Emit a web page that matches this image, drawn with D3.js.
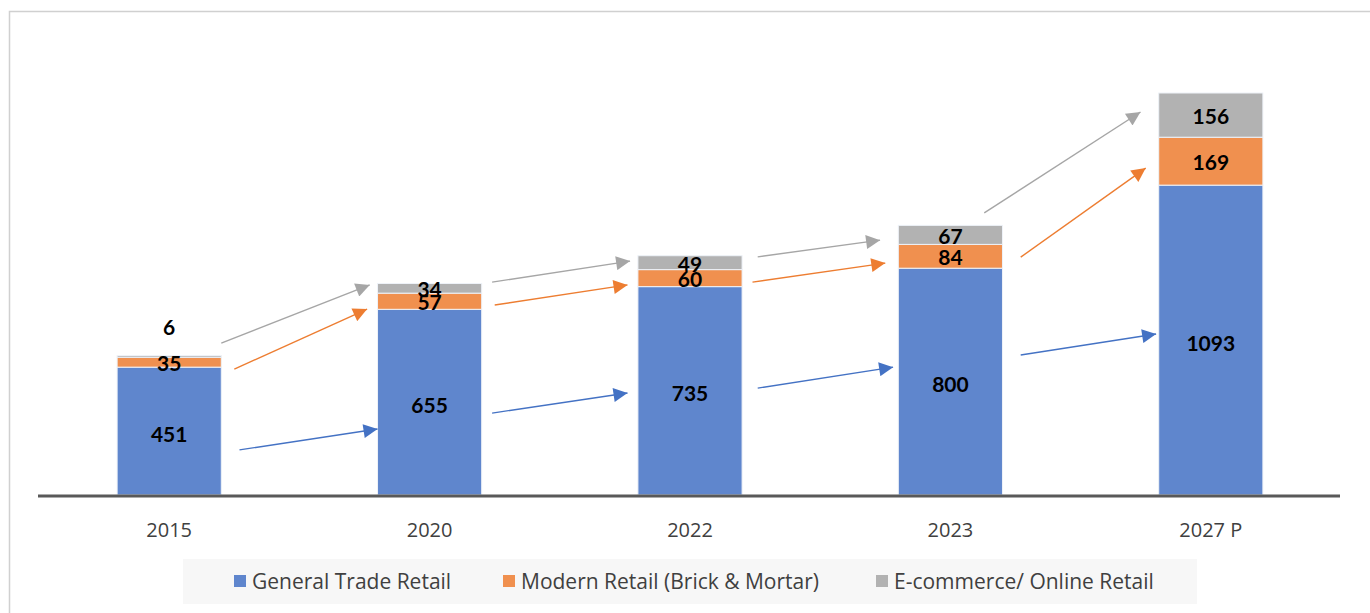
<!DOCTYPE html>
<html>
<head>
<meta charset="utf-8">
<script src="https://cdn.jsdelivr.net/npm/d3@7"></script>
<style>
  html, body { margin: 0; padding: 0; background: #fff; }
  svg { display: block; }
</style>
</head>
<body>
<div id="chart"></div>
<script>
// 数据
const years = ['2015', '2020', '2022', '2023', '2027 P'];
const generalTrade = [451, 655, 735, 800, 1093];
const modernRetail = [35, 57, 60, 84, 169];
const ecommerce = [6, 34, 49, 67, 156];
const seriesNames = ['General Trade Retail', 'Modern Retail (Brick & Mortar)', 'E-commerce/ Online Retail'];
const barColors = ['#5f86cd', '#f0904f', '#b2b2b2'];
const arrowColors = ['#4472c4', '#ed7d31', '#a6a6a6'];

// 趋势箭头: 起点/终点 = [类别位置, 数值]
const blueArrows = [
  [[0.27, 159], [0.80, 233]],
  [[1.24, 289], [1.76, 360]],
  [[2.26, 377], [2.78, 451]],
  [[3.27, 494], [3.79, 568]]
];
const orangeArrows = [
  [[0.25, 444], [0.76, 656]],
  [[1.25, 670], [1.76, 741]],
  [[2.24, 751], [2.75, 818]],
  [[3.27, 839], [3.75, 1153]]
];
const grayArrows = [
  [[0.20, 536], [0.77, 741]],
  [[1.24, 751], [1.77, 825]],
  [[2.26, 840], [2.73, 899]],
  [[3.13, 995], [3.73, 1351]]
];

const width = 1370, height = 613;
const svg = d3.select('#chart').append('svg')
  .attr('width', width)
  .attr('height', height);

// 外框
svg.append('rect')
  .attr('x', 9.5).attr('y', 11.5)
  .attr('width', width + 20).attr('height', height + 20)
  .style('fill', 'none')
  .style('stroke', '#d0d0d0')
  .style('stroke-width', 1.5);

const xScale = d3.scaleBand()
  .domain(years)
  .range([39, 1341])
  .paddingInner(0.6)
  .paddingOuter(0.3);

const yScale = d3.scaleLinear()
  .domain([0, 1600])
  .range([495, 495 - 1600 * 0.2835]);

const step = xScale.step();
const xPos = t => xScale(years[0]) + xScale.bandwidth() / 2 + t * step;

// 堆叠数据
const table = years.map((y, i) => ({
  year: y, s0: generalTrade[i], s1: modernRetail[i], s2: ecommerce[i]
}));
const stack = d3.stack().keys(['s0', 's1', 's2'])(table);

const g = svg.append('g');

stack.forEach((layer, li) => {
  g.selectAll('.bar-' + li)
    .data(layer)
    .enter()
    .append('rect')
    .attr('class', 'bar-' + li)
    .attr('x', d => xScale(d.data.year))
    .attr('y', d => yScale(d[1]))
    .attr('width', xScale.bandwidth())
    .attr('height', d => yScale(d[0]) - yScale(d[1]))
    .style('fill', barColors[li])
    .style('stroke', '#eef2f8')
    .style('stroke-width', 1);
});

// 数值标签
stack.forEach((layer, li) => {
  g.selectAll('.label-' + li)
    .data(layer)
    .enter()
    .append('text')
    .attr('x', d => xScale(d.data.year) + xScale.bandwidth() / 2)
    .attr('y', d => {
      const h = yScale(d[0]) - yScale(d[1]);
      if (h < 5) return yScale(d[1]) - 29;
      return (yScale(d[0]) + yScale(d[1])) / 2 + (li === 0 ? 2 : 0.5);
    })
    .attr('text-anchor', 'middle')
    .attr('dominant-baseline', 'central')
    .style('font-family', 'Lato, "Open Sans", sans-serif')
    .style('font-weight', 'bold')
    .style('font-size', '21px')
    .style('fill', '#000')
    .text(d => d[1] - d[0]);
});

// x 轴线
g.append('line')
  .attr('x1', 38).attr('x2', 1340)
  .attr('y1', yScale(0) + 1).attr('y2', yScale(0) + 1)
  .style('stroke', '#595959')
  .style('stroke-width', 3);

// x 轴标签
g.selectAll('.year-label')
  .data(years)
  .enter()
  .append('text')
  .attr('class', 'year-label')
  .attr('x', d => xScale(d) + xScale.bandwidth() / 2)
  .attr('y', 529)
  .attr('text-anchor', 'middle')
  .attr('dominant-baseline', 'central')
  .style('font-family', '"Open Sans", sans-serif')
  .style('font-size', '20px')
  .style('fill', '#404040')
  .text(d => d);

// 箭头
const defs = svg.append('defs');
arrowColors.forEach((c, i) => {
  defs.append('marker')
    .attr('id', 'arrow-' + i)
    .attr('viewBox', '0 0 10 10')
    .attr('refX', 10).attr('refY', 5)
    .attr('markerUnits', 'userSpaceOnUse')
    .attr('markerWidth', 16).attr('markerHeight', 14)
    .attr('orient', 'auto')
    .append('path')
    .attr('d', 'M0,0 L10,5 L0,10 Z')
    .style('fill', c);
});

[blueArrows, orangeArrows, grayArrows].forEach((arr, i) => {
  g.selectAll('.arrow-' + i)
    .data(arr)
    .enter()
    .append('line')
    .attr('class', 'arrow-' + i)
    .attr('x1', d => xPos(d[0][0]))
    .attr('y1', d => yScale(d[0][1]))
    .attr('x2', d => xPos(d[1][0]))
    .attr('y2', d => yScale(d[1][1]))
    .style('stroke', arrowColors[i])
    .style('stroke-width', 1.4)
    .attr('marker-end', 'url(#arrow-' + i + ')');
});

// 图例
const legend = svg.append('g');
legend.append('rect')
  .attr('x', 183).attr('y', 559)
  .attr('width', 1014).attr('height', 45)
  .style('fill', '#f7f7f7');

const legendX = [234, 503, 876];
seriesNames.forEach((name, i) => {
  legend.append('rect')
    .attr('x', legendX[i]).attr('y', 575)
    .attr('width', 12).attr('height', 12)
    .style('fill', barColors[i]);
  legend.append('text')
    .attr('x', legendX[i] + 18).attr('y', 581)
    .attr('dominant-baseline', 'central')
    .style('font-family', '"Open Sans", sans-serif')
    .style('font-size', '21px')
    .style('fill', '#404040')
    .text(name);
});
</script>
</body>
</html>
